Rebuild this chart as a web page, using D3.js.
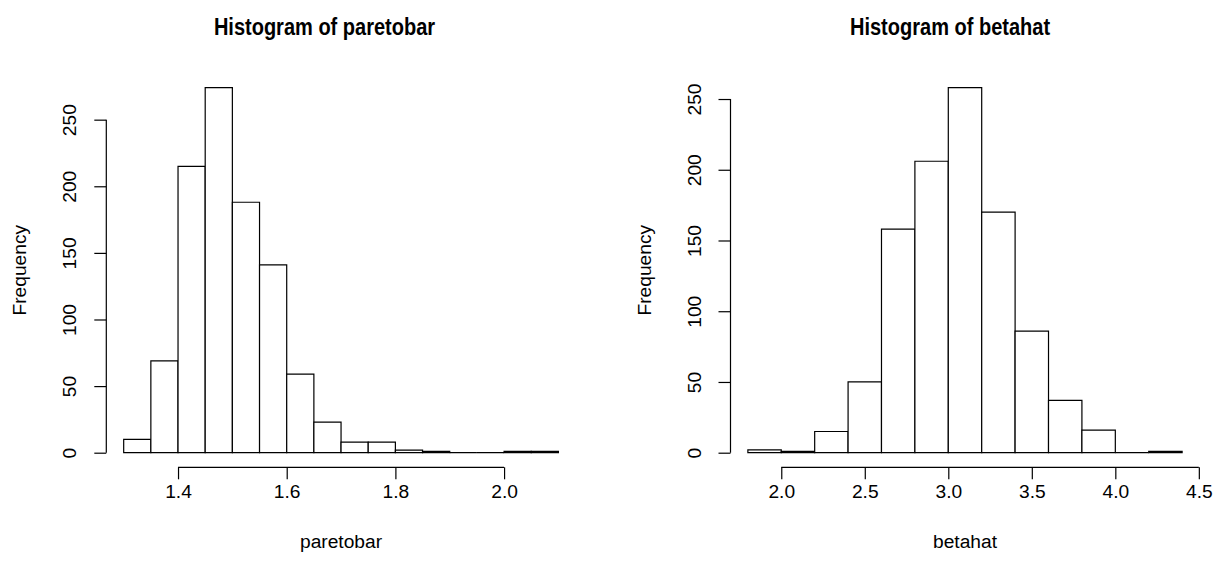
<!DOCTYPE html>
<html>
<head>
<meta charset="utf-8">
<script src="https://cdn.jsdelivr.net/npm/d3@7"></script>
<style>
  body { margin: 0; background: #fff; }
  text { font-family: "Liberation Sans", Arial, Helvetica, sans-serif; fill: #000; }
</style>
</head>
<body>
<div id="chart"></div>
<script>
// data
var paretoBreaks = [1.30, 1.35, 1.40, 1.45, 1.50, 1.55, 1.60, 1.65, 1.70, 1.75, 1.80, 1.85, 1.90, 1.95, 2.00, 2.05, 2.10];
var paretoCounts = [10, 69, 215, 274, 188, 141, 59, 23, 8, 8, 2, 1, 0, 0, 1, 1];
var paretoXTicks = [1.4, 1.6, 1.8, 2.0];
var paretoXLabels = ["1.4", "1.6", "1.8", "2.0"];

var betaBreaks = [1.8, 2.0, 2.2, 2.4, 2.6, 2.8, 3.0, 3.2, 3.4, 3.6, 3.8, 4.0, 4.2, 4.4];
var betaCounts = [2, 1, 15, 50, 158, 206, 258, 170, 86, 37, 16, 0, 1];
var betaXTicks = [2.0, 2.5, 3.0, 3.5, 4.0, 4.5];
var betaXLabels = ["2.0", "2.5", "3.0", "3.5", "4.0", "4.5"];

var yTicks = [0, 50, 100, 150, 200, 250];
var yLabels = ["0", "50", "100", "150", "200", "250"];

var svgWidth = 1214;
var svgHeight = 564;
var fontSize = 19.2;
var titleSize = 23;
var tickLen = 12;

var svg = d3.select("#chart")
  .append("svg")
  .attr("width", svgWidth)
  .attr("height", svgHeight);

function drawHist(left, right, top, bottom, breaks, counts, xTicks, xLabels, title, xName) {
  var lo = breaks[0], hi = breaks[breaks.length - 1];
  var pad = (hi - lo) * 0.04;
  var maxCount = d3.max(counts);

  // R style: 4% padding on each side of the data range
  var x = d3.scaleLinear()
    .domain([lo - pad, hi + pad])
    .range([left, right]);

  var y = d3.scaleLinear()
    .domain([-0.04 * maxCount, 1.04 * maxCount])
    .range([bottom, top]);

  var bins = counts.map(function(c, i) {
    return { x0: breaks[i], x1: breaks[i + 1], count: c };
  });

  // bars as outlined paths so empty bins still leave a line at 0
  svg.append("g").selectAll("path")
    .data(bins)
    .enter()
    .append("path")
    .attr("d", function(d) {
      var p = d3.path();
      p.rect(x(d.x0), y(d.count), x(d.x1) - x(d.x0), y(0) - y(d.count));
      return p.toString();
    })
    .attr("fill", "#fff")
    .attr("stroke", "#000")
    .attr("stroke-width", 1.2);

  // x axis
  var xAxis = d3.axisBottom(x)
    .tickValues(xTicks)
    .tickSize(tickLen)
    .tickFormat(function(d, i) { return xLabels[i]; });

  var gx = svg.append("g")
    .attr("transform", `translate(0, ${bottom})`)
    .call(xAxis);
  gx.select(".domain").remove();
  gx.append("line")
    .attr("x1", x(xTicks[0]))
    .attr("x2", x(xTicks[xTicks.length - 1]))
    .attr("stroke", "#000")
    .attr("stroke-width", 1.2);
  gx.selectAll(".tick line").attr("stroke-width", 1.2);
  gx.selectAll(".tick text")
    .attr("y", 31)
    .attr("dy", 0)
    .style("font-size", fontSize + "px")
    .style("font-family", null);

  // y axis
  var yAxis = d3.axisLeft(y)
    .tickValues(yTicks)
    .tickSize(tickLen)
    .tickFormat(function(d, i) { return yLabels[i]; });

  var gy = svg.append("g")
    .attr("transform", `translate(${left}, 0)`)
    .call(yAxis);
  gy.select(".domain").remove();
  gy.append("line")
    .attr("y1", y(yTicks[0]))
    .attr("y2", y(yTicks[yTicks.length - 1]))
    .attr("stroke", "#000")
    .attr("stroke-width", 1.2);
  gy.selectAll(".tick line").attr("stroke-width", 1.2);
  gy.selectAll(".tick text")
    .attr("x", 0)
    .attr("dy", 0)
    .attr("text-anchor", "middle")
    .attr("transform", "translate(-30, 0) rotate(-90)")
    .style("font-size", fontSize + "px")
    .style("font-family", null);

  // title: starts where a full-width bold title would start, but drawn narrower
  var t = svg.append("text")
    .attr("y", 35)
    .style("font-size", titleSize + "px")
    .style("font-weight", "bold")
    .text(title);
  var w = t.node().getComputedTextLength();
  t.attr("x", (left + right) / 2 - w / 2)
    .attr("textLength", w * 0.87)
    .attr("lengthAdjust", "spacingAndGlyphs");

  svg.append("text")
    .attr("x", (left + right) / 2)
    .attr("y", 548)
    .attr("text-anchor", "middle")
    .style("font-size", fontSize + "px")
    .text(xName);

  svg.append("text")
    .attr("transform", `translate(${left - 80}, ${(top + bottom) / 2}) rotate(-90)`)
    .attr("text-anchor", "middle")
    .style("font-size", fontSize + "px")
    .text("Frequency");
}

drawHist(106.3, 575.8, 73.1, 467.3, paretoBreaks, paretoCounts, paretoXTicks, paretoXLabels,
  "Histogram of paretobar", "paretobar");
drawHist(730.5, 1199.5, 73.1, 467.3, betaBreaks, betaCounts, betaXTicks, betaXLabels,
  "Histogram of betahat", "betahat");
</script>
</body>
</html>
